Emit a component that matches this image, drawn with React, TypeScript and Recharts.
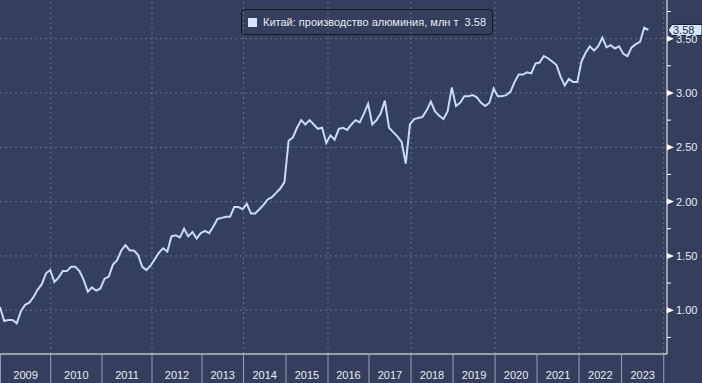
import { LineChart, Line, XAxis, YAxis, ReferenceLine } from 'recharts'

// Monthly output, one point per published month (Jan/Feb merged from 2013)
const production = [
  1.03, 0.90, 0.91, 0.91, 0.88, 0.99, 1.05, 1.07, 1.12, 1.19, 1.24, 1.34,
  1.37, 1.26, 1.30, 1.36, 1.36, 1.40, 1.40, 1.36, 1.28, 1.17, 1.21, 1.18,
  1.20, 1.29, 1.31, 1.42, 1.46, 1.55, 1.60, 1.55, 1.55, 1.51, 1.40, 1.37,
  1.41, 1.47, 1.53, 1.57, 1.54, 1.68, 1.69, 1.67, 1.75, 1.68, 1.72, 1.66,
  1.71, 1.73, 1.71, 1.77, 1.84, 1.85, 1.86, 1.86, 1.95, 1.95,
  1.93, 1.98, 1.89, 1.89, 1.93, 1.97, 2.02, 2.04, 2.08, 2.12,
  2.18, 2.56, 2.59, 2.68, 2.75, 2.71, 2.75, 2.71, 2.67, 2.68,
  2.54, 2.61, 2.57, 2.67, 2.68, 2.66, 2.71, 2.75, 2.73, 2.81,
  2.90, 2.71, 2.75, 2.81, 2.93, 2.68, 2.64, 2.60, 2.55, 2.35,
  2.71, 2.76, 2.77, 2.78, 2.84, 2.92, 2.83, 2.79, 2.76, 2.83,
  3.05, 2.88, 2.91, 2.97, 2.97, 2.98, 2.96, 2.91, 2.88, 2.91,
  3.04, 2.97, 2.97, 2.98, 3.01, 3.10, 3.17, 3.17, 3.19, 3.18,
  3.27, 3.28, 3.34, 3.32, 3.29, 3.26, 3.15, 3.07, 3.13, 3.10,
  3.10, 3.29, 3.37, 3.43, 3.39, 3.43, 3.51, 3.42, 3.44, 3.41,
  3.43, 3.36, 3.34, 3.42, 3.45, 3.47, 3.60, 3.58,
]

const years = ['2009', '2010', '2011', '2012', '2013', '2014', '2015', '2016',
  '2017', '2018', '2019', '2020', '2021', '2022', '2023']

// where each year starts on the point-index axis (last one closes 2023)
const yearStarts = [0.1, 12.12, 24.38, 36.34, 48.29, 58.21, 68.37, 78.41, 88.21,
  98.25, 108.3, 118.34, 128.38, 138.42, 148.58, 158.67]

const yTicks = [0.75, 1, 1.25, 1.5, 1.75, 2, 2.25, 2.5, 2.75, 3, 3.25, 3.5, 3.75]
const yGrid = [1, 1.5, 2, 2.5, 3, 3.5]

const seriesName = 'Китай: производство алюминия, млн т'

const W = 702
const H = 383
const AXIS_W = 35
const AXIS_H = 29
const X_MAX = 159.45
const BG = '#333f5c'
const LINE = '#c6dcf6'
const GRID = '#65718b'
const TEXT = '#e9ebef'
const FONT = '"Liberation Sans", Arial, sans-serif'

const data = production.map((v, i) => ({ i, v }))
const last = production[production.length - 1]
const pxPerUnit = (W - AXIS_W) / X_MAX

function YTick({ x, y, payload }: any) {
  const v = payload.value as number
  const major = Math.abs(v * 2 - Math.round(v * 2)) < 1e-6
  if (!major) {
    return <line x1={x} y1={y} x2={x + 4} y2={y} stroke="#ffffff" />
  }
  return (
    <g>
      <polygon points={`${x},${y - 3} ${x + 7},${y} ${x},${y + 3}`} fill="#ffffff" />
      <text x={x + 9} y={y + 4} fontSize={11} fill={TEXT} fontFamily={FONT}>
        {v.toFixed(2)}
      </text>
    </g>
  )
}

function XTick({ x, y, payload, index }: any) {
  const label = years[index]
  let mid = 0
  if (label) {
    mid = x + ((yearStarts[index + 1] - payload.value) * pxPerUnit) / 2
  }
  return (
    <g>
      <line x1={x} y1={y} x2={x} y2={y + AXIS_H} stroke="#9aa3b5" />
      {label && (
        <text x={mid} y={y + 25} textAnchor="middle" fontSize={11} fill={TEXT} fontFamily={FONT}>
          {label}
        </text>
      )}
    </g>
  )
}

function LastBadge({ viewBox }: any) {
  const x0 = viewBox.x + viewBox.width + 1
  const y = viewBox.y
  return (
    <g>
      <path
        d={`M${x0},${y} L${x0 + 4},${y - 5.5} L${W},${y - 5.5} L${W},${y + 5.5} L${x0 + 4},${y + 5.5} Z`}
        fill="#d3e6fb"
        stroke="#17202f"
      />
      <text x={x0 + 5} y={y + 4} fontSize={11} fill="#1c2942" fontFamily={FONT}>
        {last.toFixed(2)}
      </text>
    </g>
  )
}

export default function App() {
  return (
    <div style={{ position: 'absolute', left: 0, top: 0, width: W, height: H, background: BG, fontFamily: FONT }}>
      <LineChart width={W} height={H} data={data} margin={{ top: 0, right: 0, bottom: 0, left: 0 }}>
        {yGrid.map((g) => (
          <ReferenceLine key={'h' + g} y={g} stroke={GRID} strokeDasharray="2 3" />
        ))}
        {yearStarts.filter((_, k) => k % 2 === 1).map((s) => (
          <ReferenceLine key={'v' + s} x={s} stroke={GRID} strokeDasharray="2 3" />
        ))}
        <XAxis
          dataKey="i"
          type="number"
          domain={[0, X_MAX]}
          ticks={yearStarts}
          interval={0}
          height={AXIS_H}
          allowDataOverflow
          axisLine={{ stroke: '#ffffff' }}
          tickLine={false}
          tickSize={0}
          tickMargin={0}
          tick={<XTick />}
        />
        <YAxis
          orientation="right"
          type="number"
          width={AXIS_W}
          domain={[0.597, 3.856]}
          ticks={yTicks}
          interval={0}
          allowDataOverflow
          axisLine={{ stroke: '#ffffff' }}
          tickLine={false}
          tickSize={0}
          tickMargin={0}
          tick={<YTick />}
        />
        <Line
          type="linear"
          dataKey="v"
          stroke={LINE}
          strokeWidth={2}
          dot={false}
          activeDot={false}
          isAnimationActive={false}
        />
        <ReferenceLine y={last} stroke="none" ifOverflow="visible" label={<LastBadge />} />
      </LineChart>
      <div
        style={{
          position: 'absolute',
          left: 241,
          top: 9,
          width: 252,
          height: 26,
          boxSizing: 'border-box',
          border: '1px solid #141922',
          borderRadius: 4,
          display: 'flex',
          alignItems: 'center',
          paddingLeft: 6,
          fontSize: 11,
          color: TEXT,
          whiteSpace: 'pre',
        }}
      >
        <span style={{ width: 9, height: 9, background: '#d3e6fb', marginRight: 6, flexShrink: 0 }} />
        <span>{`${seriesName}  ${last.toFixed(2)}`}</span>
      </div>
    </div>
  )
}
